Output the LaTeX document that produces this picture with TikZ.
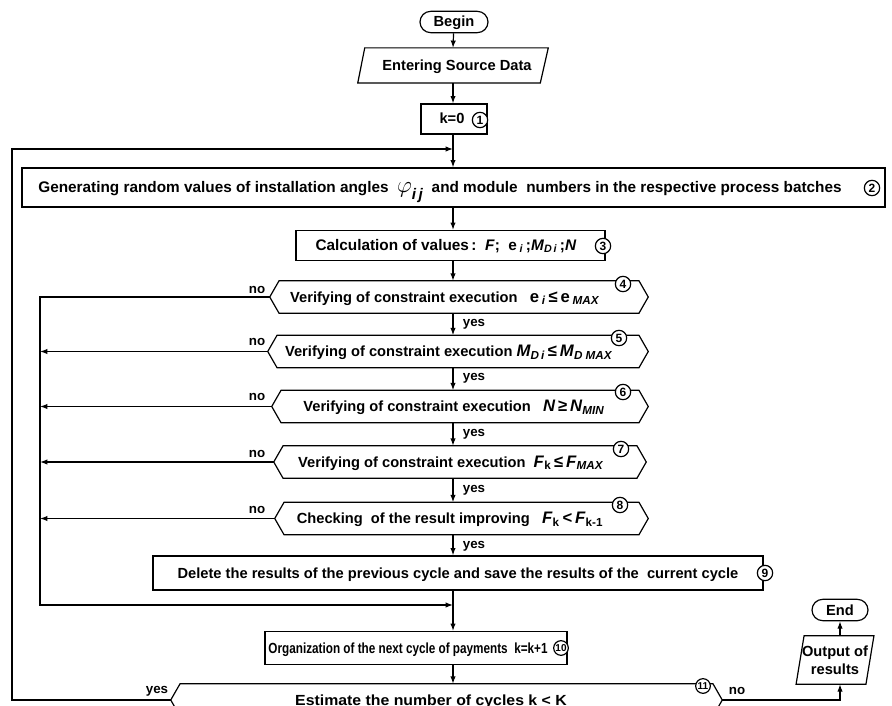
\documentclass[tikz,border=0pt]{standalone}
\usepackage{fontspec}
\setmainfont{Liberation Sans}
\usetikzlibrary{arrows.meta,calc}
\newcommand{\sbs}[1]{\textsubscript{#1}}
\newcommand{\mth}[1]{{\fontsize{12.5}{13}\selectfont #1}}
% name, width(pt), cx, cy, text x, text
\newcommand{\decbox}[6]{%
  \node[shp,minimum width=#2] (#1) at (#3,#4) {};
  \draw[ln] (#1.west) -- ([xshift=7pt]#1.north west) -- ([xshift=-7pt]#1.north east) -- (#1.east) -- ([xshift=-7pt]#1.south east) -- ([xshift=7pt]#1.south west) -- cycle;
  \node[txt] (#1t) at (#5,#4+5) {#6};}
\begin{document}
\begin{tikzpicture}[x=0.75pt,y=-0.75pt,
  ln/.style={line width=0.9pt},
  arr/.style={ln,-{Latex[length=5.5pt,width=4pt]}},
  txt/.style={inner sep=0pt,anchor=base,font=\fontsize{11}{13}\selectfont\bfseries},
  box/.style={draw,ln,inner sep=0pt},
  shp/.style={inner sep=0pt,minimum height=24pt},
  num/.style={circle,draw,ln,fill=white,inner sep=0pt,minimum size=11.5pt,font=\fontsize{9}{9}\selectfont\bfseries},
  term/.style={draw,ln,rounded corners=8pt,minimum height=16pt,inner sep=0pt},
  lbl/.style={inner sep=0pt,anchor=base,font=\fontsize{10}{10}\selectfont\bfseries}]
\useasboundingbox (0,0) rectangle (892,706);
\fill[white] (0,0) rectangle (892,706);
\coordinate (mx) at (453,0);
\coordinate (oL) at (12,0);
\coordinate (iL) at (40,0);
\coordinate (j1) at (453,149);
\coordinate (m1) at (453,605);
% top
\node[term,minimum width=51pt] (begin) at (454,22) {};
\node[txt] at (454,27) {Begin};
\node[shp,minimum width=142.5pt,minimum height=26pt] (enter) at (453,65.5) {};
\draw[ln] ([xshift=5.25pt]enter.north west) -- (enter.north east) -- ([xshift=-6pt]enter.south east) -- (enter.south west) -- cycle;
\node[txt] at (457,70.5) {Entering Source Data};
\node[box,minimum width=49.5pt,minimum height=22.5pt] (k0) at (454,119) {};
\node[txt] at (452,124) {k=0};
\node[num] (c1) at (480,120) {1};
\node[box,minimum width=647.25pt,minimum height=29.25pt] (b2) at (453.5,187.5) {};
\node[txt,font=\fontsize{11.5}{13}\selectfont\bfseries] at (440,192.5) {Generating random values of installation angles\ \ {\fontsize{19}{19}\selectfont$\varphi$}\raisebox{-5pt}{\textit{i\,j}}\ \ and module\ \ numbers in the respective process batches};
\node[num] (c2) at (872,188) {2};
\node[box,minimum width=231.75pt,minimum height=22.5pt] (b3) at (450.5,245.5) {};
\node[txt,font=\fontsize{11.5}{13}\selectfont\bfseries] at (446,250.5) {Calculation of values\,:\ \ \textit{F};\ \ e\,\sbs{\textit{i}}\,;\textit{M}\sbs{\textit{D\,i}}\,;\textit{N}};
\node[num] (c3) at (603,246) {3};
% decisions
\decbox{d4}{283.5pt}{459}{297}{445}{Verifying of constraint execution\ \ \ \mth{e\,\sbs{\textit{i}}\,≤\,e\,\sbs{\textit{MAX}}}}
\decbox{d5}{285pt}{458}{351.5}{449}{Verifying of constraint execution \mth{\textit{M}\sbs{\textit{D\,i}}\,≤\,\textit{M}\sbs{\textit{D MAX}}}}
\decbox{d6}{282pt}{460}{406.5}{454}{Verifying of constraint execution\ \ \ \mth{\textit{N}\,≥\,\textit{N}\sbs{\textit{MIN}}}}
\decbox{d7}{279pt}{460}{462}{451}{Verifying of constraint execution\ \ \mth{\textit{F}\sbs{k}\,≤\,\textit{F}\sbs{\textit{MAX}}}}
\decbox{d8}{279.75pt}{461.5}{518.5}{450}{Checking\ \ of the result improving\ \ \ \mth{\textit{F}\sbs{k}\,<\,\textit{F}\sbs{k-1}}}
\node[num] (c4) at (623,284) {4};
\node[num] (c5) at (619,338) {5};
\node[num] (c6) at (623,392) {6};
\node[num] (c7) at (621,449) {7};
\node[num] (c8) at (620,505) {8};
\node[box,minimum width=457.5pt,minimum height=25.5pt] (b9) at (458,573) {};
\node[txt] at (458,578) {Delete the results of the previous cycle and save the results of the\ \ current cycle};
\node[num] (c9) at (765,573) {9};
\node[box,minimum width=226.5pt,minimum height=24.75pt] (b10) at (416,648) {};
\node[txt] at (408,653) {\scalebox{0.8}[1]{Organization of the next cycle of payments\ \ k=k+1}};
\decbox{d11}{413.25pt}{446.5}{700}{431}{\scalebox{1.08}[1]{Estimate the number of cycles k < K}}
\node[num,minimum size=11pt,font=\fontsize{7.5}{7.5}\selectfont\bfseries] (c10) at (561,648) {10};
\node[num,minimum size=11pt,font=\fontsize{7.5}{7.5}\selectfont\bfseries] (c11) at (703,686) {11};
% output / end
\node[shp,minimum width=58pt,minimum height=36pt] (out) at (835,660) {};
\draw[ln] ([xshift=6pt]out.north west) -- (out.north east) -- ([xshift=-6pt]out.south east) -- (out.south west) -- cycle;
\node[txt,anchor=center,align=center,font=\fontsize{11}{13.5}\selectfont\bfseries] at (835,660) {Output of\\results};
\node[term,minimum width=42pt] (end) at (840,610) {};
\node[txt] at (840,615) {End};
% connectors
\draw[arr] (begin) -- (enter.north -| mx);
\draw[arr] (enter.south -| mx) -- (k0.north -| mx);
\draw[ln] (k0.south -| mx) -- (j1);
\draw[arr] (j1) -- (b2.north -| j1);
\draw[arr] (d11.west) -- (d11.west -| oL) -- (j1 -| oL) -- (j1);
\draw[arr] (b2.south -| mx) -- (b3.north -| mx);
\draw[arr] (b3.south -| mx) -- (d4.north -| mx);
\draw[arr] (d4.south -| mx) -- (d5.north -| mx);
\draw[arr] (d5.south -| mx) -- (d6.north -| mx);
\draw[arr] (d6.south -| mx) -- (d7.north -| mx);
\draw[arr] (d7.south -| mx) -- (d8.north -| mx);
\draw[arr] (d8.south -| mx) -- (b9.north -| mx);
\draw[arr] (b9.south -| mx) -- (b10.north -| mx);
\draw[arr] (b10.south -| mx) -- (d11.north -| mx);
\draw[arr] (d4.west) -- (d4.west -| iL) -- (m1 -| iL) -- (m1);
\draw[arr] (d5.west) -- (d5.west -| iL);
\draw[arr] (d6.west) -- (d6.west -| iL);
\draw[arr] (d7.west) -- (d7.west -| iL);
\draw[arr] (d8.west) -- (d8.west -| iL);
\draw[arr] (d11.east) -- (d11.east -| end) -- (out.south -| end);
\draw[arr] (out.north -| end) -- (end);
% labels
\node[lbl] at (257,293) {no};
\node[lbl] at (257,345) {no};
\node[lbl] at (257,400) {no};
\node[lbl] at (257,457) {no};
\node[lbl] at (257,513) {no};
\node[lbl] at (474,326) {yes};
\node[lbl] at (474,380) {yes};
\node[lbl] at (474,436) {yes};
\node[lbl] at (474,492) {yes};
\node[lbl] at (474,548) {yes};
\node[lbl] at (157,693) {yes};
\node[lbl] at (737,694) {no};
\end{tikzpicture}
\end{document}
